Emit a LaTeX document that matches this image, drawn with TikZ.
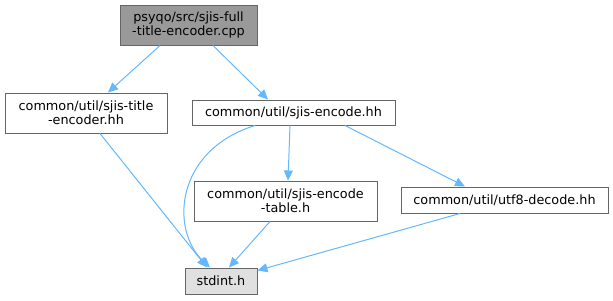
\documentclass[tikz,border=0pt]{standalone}
\usepackage{fontspec}
\setmainfont{DejaVu Sans}
\usetikzlibrary{arrows.meta,calc}
\definecolor{edgec}{HTML}{63B8FF}
\definecolor{bordc}{HTML}{666666}
\definecolor{topfill}{HTML}{999999}
\definecolor{extfill}{HTML}{E0E0E0}
\begin{document}
\begin{tikzpicture}[x=1pt,y=-1pt,
  box/.style={draw=bordc, line width=1pt, fill=white, inner sep=0pt, align=center,
    font=\fontsize{12.8}{13.6}\selectfont, text=black},
  edge/.style={draw=edgec, line width=1pt, -{Triangle[length=10pt,width=9pt]}}]
\useasboundingbox (0,0) rectangle (613,300);
\node[box, fill=topfill, minimum width=137pt, minimum height=40pt] (top) at (188.5,25) {psyqo/src/sjis-full\\-title-encoder.cpp};
\node[box, minimum width=162pt, minimum height=40pt] (title) at (86,113) {common/util/sjis-title\\-encoder.hh};
\node[box, minimum width=203pt, minimum height=25pt] (enc) at (293.5,112.5) {common/util/sjis-encode.hh};
\node[box, minimum width=183pt, minimum height=40pt] (table) at (285.5,201) {common/util/sjis-encode\\-table.h};
\node[box, minimum width=207pt, minimum height=26pt] (utf) at (504.5,200) {common/util/utf8-decode.hh};
\node[box, fill=extfill, minimum width=72pt, minimum height=26pt] (std) at (221,281) {stdint.h};
\draw[edge] ([xshift=-28.5pt]top.south) -- ([xshift=22pt]title.north);
\draw[edge] ([xshift=24.5pt]top.south) -- ([xshift=-25.5pt]enc.north);
\draw[edge] ([xshift=14pt]title.south) -- ([xshift=-14pt]std.north);
\draw[edge] ([xshift=-38.5pt]enc.south) .. controls +(-80,25) and +(-40,-38) .. ([xshift=-11pt]std.north);
\draw[edge] ([xshift=-3.5pt]enc.south) -- ([xshift=2.5pt]table.north);
\draw[edge] ([xshift=51.5pt]enc.south) -- ([xshift=-39.5pt]utf.north);
\draw[edge] ([xshift=-15.5pt]table.south) -- ([xshift=8pt]std.north);
\draw[edge] ([xshift=-44.5pt]utf.south) -- ([yshift=-3pt]std.north east);
\end{tikzpicture}
\end{document}
